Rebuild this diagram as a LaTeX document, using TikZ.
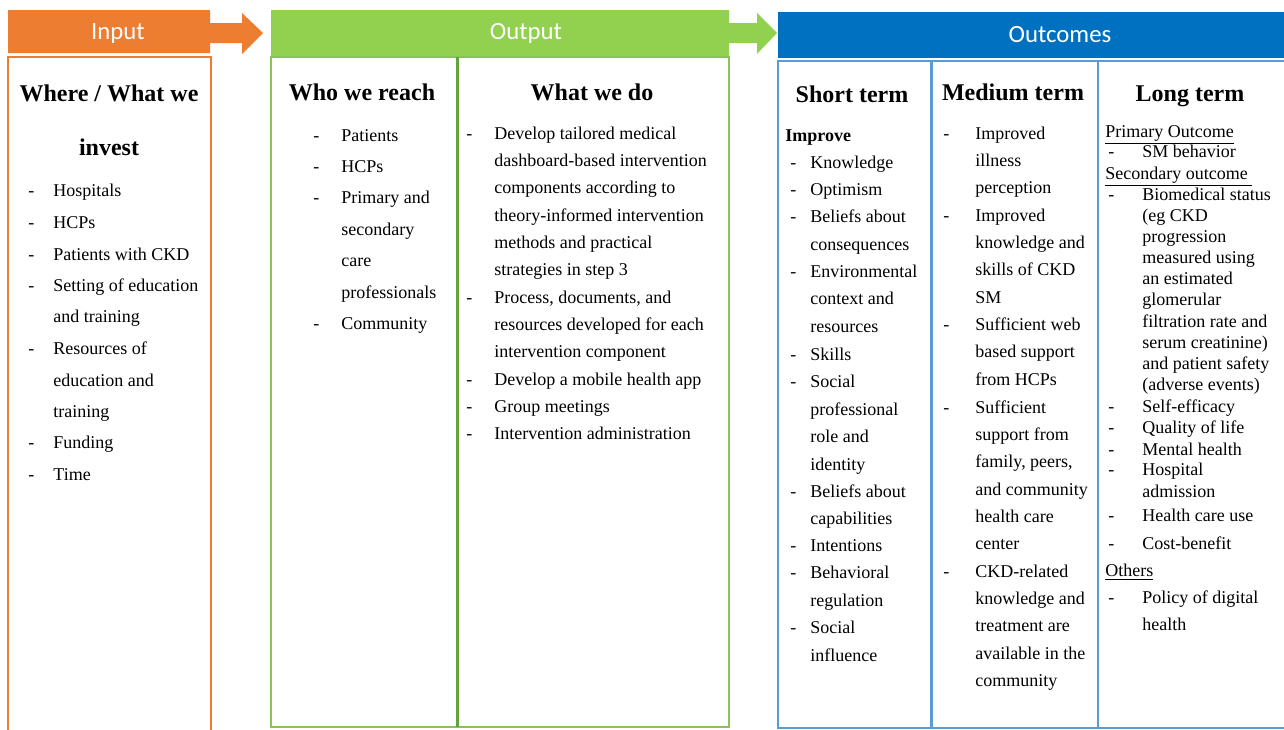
\documentclass[tikz,border=0pt]{standalone}
\usepackage{fontspec}
\setmainfont{Liberation Serif}
\newfontfamily\bandfont{Carlito}

\definecolor{inputorange}{HTML}{ED7D31}
\definecolor{outputgreen}{HTML}{92D050}
\definecolor{outcomeblue}{HTML}{0070C0}
\definecolor{boxgreen}{HTML}{86C45A}
\definecolor{divgreen}{HTML}{62A33F}
\definecolor{boxblue}{HTML}{5B9BD5}

\tikzset{
  body/.style={font=\fontsize{9}{11}\selectfont, anchor=base west, inner sep=0pt},
  colhead/.style={font=\fontsize{12}{14}\selectfont\bfseries, anchor=base, inner sep=0pt},
  bandlabel/.style={font=\bandfont\fontsize{12.4}{14}\selectfont, text=white, anchor=base, inner sep=0pt}
}

\begin{document}
\begin{tikzpicture}[x=0.5pt,y=-0.5pt]

            \useasboundingbox (0,0) rectangle (1284,729);

            % bands
            \fill[inputorange] (8,10) -- (210,10) -- (210,23) -- (242,23) -- (242,13) -- (263,33)
                -- (242,54) -- (242,43) -- (210,43) -- (210,53) -- (8,53) -- cycle;
            \fill[outputgreen] (271,10) -- (729,10) -- (729,23) -- (757,23) -- (757,13) -- (777,33)
                -- (757,54) -- (757,43) -- (729,43) -- (729,56) -- (271,56) -- cycle;
            \fill[outcomeblue] (778,12) rectangle (1284,58);
            \node[bandlabel] (input) at (118,39) {Input};
            \node[bandlabel] (output) at (526,39) {Output};
            \node[bandlabel] (outcomes) at (1060,42) {Outcomes};

            % boxes
            \draw[inputorange,line width=1pt] (8,57) rectangle (211,745);
            \draw[boxgreen,line width=1pt] (271,57) rectangle (729,727);
            \draw[divgreen,line width=1.5pt] (457,57) -- (457,727);
            \draw[boxblue,line width=1pt] (778,61) rectangle (1300,728);
            \draw[boxblue,line width=1.5pt] (931,61) -- (931,728);
            \draw[boxblue,line width=1pt] (1098,61) -- (1098,728);

            % input
            \node[colhead] (wherehead) at (109,101) {Where / What we};
            \node[colhead] (investhead) at (109,155) {invest};
            \foreach \yy/\dsh/\txt [count=\i] in {196/1/Hospitals, 228/1/HCPs, 260/1/Patients with CKD,
                291/1/Setting of education, 322/0/and training, 354/1/Resources of, 386/0/education and,
                417/0/training, 448/1/Funding, 480/1/Time}
              {\node[body] (inv\i) at (53,\yy) {\txt};
               \ifnum\dsh=1 \node[body] (invd\i) at (28,\yy) {-};\fi}

            % who we reach
            \node[colhead] (whohead) at (362,100) {Who we reach};
            \foreach \yy/\dsh/\txt [count=\i] in {141/1/Patients, 172/1/HCPs, 203/1/Primary and,
                235/0/secondary, 266/0/care, 298/0/professionals, 329/1/Community}
              {\node[body] (who\i) at (341,\yy) {\txt};
               \ifnum\dsh=1 \node[body] (whod\i) at (313,\yy) {-};\fi}

            % what we do
            \node[colhead] (whathead) at (592,100) {What we do};
            \foreach \yy/\dsh/\txt [count=\i] in {139/1/Develop tailored medical,
                166/0/dashboard-based intervention, 193/0/components according to,
                221/0/theory-informed intervention, 248/0/methods and practical, 275/0/strategies in step 3,
                303/1/{Process, documents, and}, 330/0/resources developed for each,
                357/0/intervention component, 385/1/Develop a mobile health app, 412/1/Group meetings,
                439/1/Intervention administration}
              {\node[body] (what\i) at (494,\yy) {\txt};
               \ifnum\dsh=1 \node[body] (whatd\i) at (466,\yy) {-};\fi}

            % short term
            \node[colhead] (shorthead) at (852,102) {Short term};
            \node[body,font=\fontsize{9}{11}\selectfont\bfseries] (improve) at (785,141) {Improve};
            \foreach \yy/\dsh/\txt [count=\i] in {168/1/Knowledge, 195/1/Optimism, 222/1/Beliefs about,
                250/0/consequences, 277/1/Environmental, 304/0/context and, 332/0/resources, 360/1/Skills,
                387/1/Social, 415/0/professional, 442/0/role and, 470/0/identity, 497/1/Beliefs about,
                524/0/capabilities, 551/1/Intentions, 578/1/Behavioral, 606/0/regulation, 633/1/Social,
                661/0/influence}
              {\node[body] (short\i) at (810,\yy) {\txt};
               \ifnum\dsh=1 \node[body] (shortd\i) at (790,\yy) {-};\fi}

            % medium term
            \node[colhead] (mediumhead) at (1013,100) {Medium term};
            \foreach \yy/\dsh/\txt [count=\i] in {139/1/Improved, 166/0/illness, 193/0/perception,
                221/1/Improved, 248/0/knowledge and, 275/0/skills of CKD, 303/0/SM, 330/1/Sufficient web,
                357/0/based support, 385/0/from HCPs, 413/1/Sufficient, 440/0/support from,
                467/0/{family, peers,}, 495/0/and community, 522/0/health care, 549/0/center,
                577/1/CKD-related, 604/0/knowledge and, 631/0/treatment are, 659/0/available in the,
                686/0/community}
              {\node[body] (med\i) at (975,\yy) {\txt};
               \ifnum\dsh=1 \node[body] (medd\i) at (943,\yy) {-};\fi}

            % long term
            \node[colhead] (longhead) at (1190,101) {Long term};
            \node[body] (primary) at (1105,137) {\underline{Primary Outcome}};
            \node[body] (secondary) at (1105,179) {\underline{Secondary outcome\ }};
            \node[body] (others) at (1105,576) {\underline{Others}};
            \foreach \yy/\dsh/\txt [count=\i] in {157/1/SM behavior, 200/1/Biomedical status,
                221/0/(eg CKD, 242/0/progression, 263/0/measured using, 284/0/an estimated,
                305/0/glomerular, 327/0/filtration rate and, 348/0/serum creatinine),
                369/0/and patient safety, 390/0/(adverse events), 412/1/Self-efficacy,
                433/1/Quality of life, 455/1/Mental health, 475/1/Hospital, 497/0/admission,
                521/1/Health care use, 549/1/Cost-benefit, 603/1/Policy of digital, 630/0/health}
              {\node[body] (long\i) at (1142,\yy) {\txt};
               \ifnum\dsh=1 \node[body] (longd\i) at (1108,\yy) {-};\fi}

        \end{tikzpicture}
\end{document}
